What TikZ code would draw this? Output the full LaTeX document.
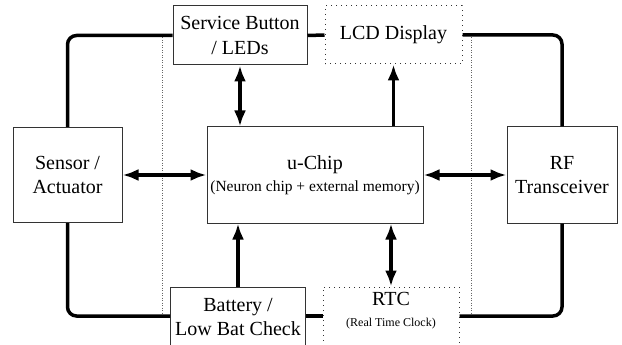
\documentclass[tikz,border=0pt]{standalone}
\usepackage{fontspec}
\setmainfont{Liberation Serif}
\usetikzlibrary{arrows.meta}

\begin{document}
\begin{tikzpicture}[x=1pt,y=-1pt,
    block/.style={draw=black!80,line width=1pt,inner sep=0pt,align=center,
      font=\fontsize{20}{24.5}\selectfont},
    dot block/.style={block,dash pattern=on 1pt off 4pt},
    bus/.style={line width=3.5pt,rounded corners=9pt},
    guide/.style={black!60,line width=0.8pt,dash pattern=on 1pt off 1.5pt},
    both/.style={line width=3.5pt,{Latex[length=16pt,width=12pt]}-{Latex[length=16pt,width=12pt]}},
    one/.style={line width=3.5pt,-{Latex[length=16pt,width=12pt]}}]
  \useasboundingbox (0,0) rectangle (622,345);
  % blocks
  \node[block,minimum width=134pt,minimum height=59pt] (svc) at (240,35.5) {Service Button\\/ LEDs};
  \node[dot block,minimum width=137pt,minimum height=58pt] (lcd) at (393.5,35) {LCD Display};
  \node[block,minimum width=109pt,minimum height=95pt] (sens) at (67.5,175) {Sensor /\\Actuator};
  \node[block,minimum width=216pt,minimum height=96pt] (chip) at (315,175)
    {u-Chip\\[-3pt]{\fontsize{15.5}{18}\selectfont (Neuron chip + external memory)}};
  \node[block,minimum width=110pt,minimum height=96pt] (rf) at (562,175) {RF\\Transceiver};
  \node[block,minimum width=135pt,minimum height=60pt] (bat) at (238,317) {Battery /\\Low Bat Check};
  \node[dot block,minimum width=136pt,minimum height=60pt,text depth=15pt] (rtc) at (391,317)
    {RTC\\[-4pt]{\fontsize{12}{14}\selectfont (Real Time Clock)}};
  \coordinate (lowbus) at (0,316);
  % dotted guides
  \draw[guide] (162,35) -- (162,316);
  \draw[guide] (471,35) -- (471,316);
  % buses
  \draw[bus] (sens.north) |- (svc.west);
  \draw[bus] (svc.east) -- (lcd.west);
  \draw[bus] (lcd.east) -| (rf.north);
  \draw[bus] (sens.south) |- (bat.west |- lowbus);
  \draw[bus] (bat.east |- lowbus) -- (rtc.west |- lowbus);
  \draw[bus] (rtc.east |- lowbus) -| (rf.south);
  % links
  \draw[both] (sens.east) -- (chip.west);
  \draw[both] (chip.east) -- (rf.west);
  \draw[both] (svc.south) -- (svc.south |- chip.north);
  \draw[one] (lcd.south |- chip.north) -- (lcd.south);
  \draw[one] (bat.north) -- (bat.north |- chip.south);
  \draw[both] (rtc.north |- chip.south) -- (rtc.north);
\end{tikzpicture}
\end{document}
